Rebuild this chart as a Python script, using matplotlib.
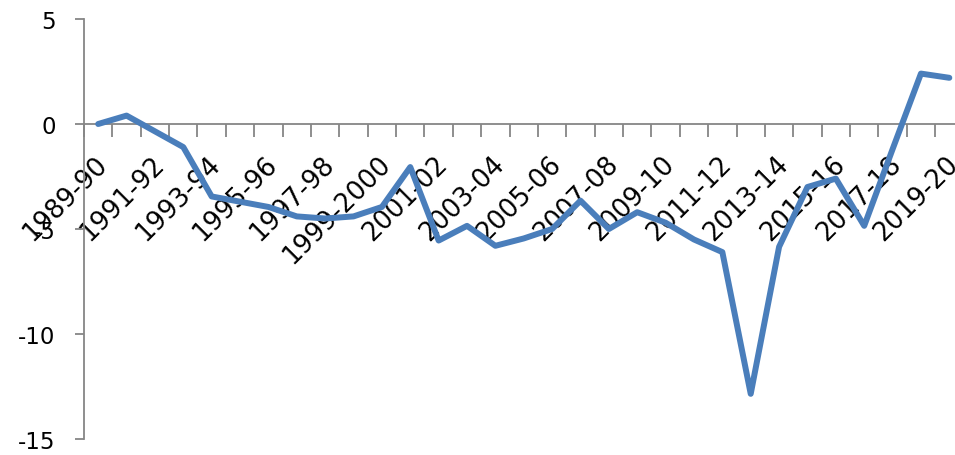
import matplotlib.pyplot as plt
import matplotlib.transforms as mtransforms
import numpy as np

# fiscal years 1989-90 .. 2019-20
years = [f'{y}-{str(y + 1)[-2:]}' if y != 1999 else '1999-2000' for y in range(1989, 2020)]
values = [0.0, 0.4, -0.35, -1.1, -3.45, -3.7, -3.95, -4.4, -4.5, -4.4,
          -3.95, -2.05, -5.55, -4.85, -5.8, -5.45, -5.0, -3.65, -5.0, -4.2,
          -4.7, -5.5, -6.1, -12.85, -5.85, -3.0, -2.6, -4.85, -1.2, 2.4, 2.2]
yticks = [5, 0, -5, -10, -15]

fig = plt.figure(figsize=(9.55, 4.56), dpi=100)
ax = fig.add_axes([84 / 955, 16 / 456, 879.5 / 955, 420 / 456])

x = np.arange(len(years))
ax.plot(x, values, color='#4A7EBB', linewidth=4.3, solid_joinstyle='round',
        solid_capstyle='round', zorder=3)

ax.set_xlim(-0.5, len(years) - 0.5)
ax.set_ylim(-15, 5)

axis_grey = '#868686'
for side in ['top', 'right']:
    ax.spines[side].set_visible(False)
ax.spines['bottom'].set_position(('data', 0))
ax.spines['left'].set_color(axis_grey)
ax.spines['bottom'].set_color(axis_grey)
ax.spines['left'].set_linewidth(1.3)
ax.spines['bottom'].set_linewidth(1.3)

ax.set_yticks(yticks)
ax.set_yticklabels([str(v) for v in yticks])
ax.tick_params(axis='y', direction='out', length=6.5, width=1.3, color=axis_grey,
               pad=14, labelsize=16.5, labelcolor='black')

# tick marks between categories, labels on every second category
ax.set_xticks(np.arange(-0.5, len(years)), minor=True)
ax.set_xticks(x[::2])
ax.set_xticklabels(years[::2], rotation=45, ha='right', va='top', rotation_mode='anchor')
ax.tick_params(axis='x', which='minor', direction='out', length=9, width=1.3, color=axis_grey)
ax.tick_params(axis='x', which='major', length=0, pad=19, labelsize=18.5, labelcolor='black')
shift = mtransforms.ScaledTranslation(-4 / 100, 0, fig.dpi_scale_trans)
for lab in ax.get_xticklabels():
    lab.set_transform(lab.get_transform() + shift)

fig.savefig('out.png', dpi=100)
